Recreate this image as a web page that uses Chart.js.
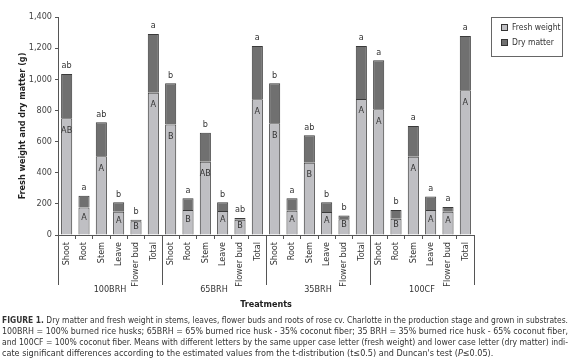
<!DOCTYPE html>
<html>
<head>
<meta charset="utf-8">
<script src="https://cdn.jsdelivr.net/npm/chart.js@4.4.1/dist/chart.umd.min.js"></script>
<style>
  html, body { margin: 0; padding: 0; background: #fff; }
  #wrap { position: relative; width: 580px; height: 364px; }
  #caption {
    position: absolute; left: 2px; top: 315px; width: 566px;
    font-family: 'Liberation Sans Narrow', 'DejaVu Sans Condensed', 'Liberation Sans', sans-serif;
    font-size: 9px; line-height: 11px; color: #333;
  }
  #caption span { display: inline-block; white-space: nowrap; transform-origin: 0 0; }
</style>
</head>
<body>
<div id="wrap">
  <canvas id="roseChart" width="580" height="364"></canvas>
  <div id="caption">
    <span class="fit"><b>FIGURE 1.</b> Dry matter and fresh weight in stems, leaves, flower buds and roots of rose cv. Charlotte in the production stage and grown in substrates.</span><br>
    <span class="fit">100BRH = 100% burned rice husks; 65BRH = 65% burned rice husk - 35% coconut fiber; 35 BRH = 35% burned rice husk - 65% coconut fiber,</span><br>
    <span class="fit">and 100CF = 100% coconut fiber. Means with different letters by the same upper case letter (fresh weight) and lower case letter (dry matter) indi-</span><br>
    <span>cate significant differences according to the estimated values from the t-distribution (t≤0.5) and Duncan's test (<i>P</i>≤0.05).</span>
  </div>
</div>
<script>
const groups = ['100BRH', '65BRH', '35BRH', '100CF'];
const parts = ['Shoot', 'Root', 'Stem', 'Leave', 'Flower bud', 'Total'];

// fresh weight (g), read per bar: 100BRH, 65BRH, 35BRH, 100CF
const freshWeight = [
  750, 176, 505, 150, 88, 914,
  709, 161, 471, 154, 98, 871,
  717, 156, 464, 148, 101, 874,
  807, 105, 503, 161, 150, 929
];
// dry matter (g), stacked on top of the fresh weight
const dryMatter = [
  284, 76, 219, 60, 10, 377,
  265, 75, 186, 56, 11, 343,
  257, 80, 176, 62, 25, 340,
  315, 56, 197, 87, 30, 349
];
const upperLetters = [
  'AB', 'A', 'A', 'A', 'B', 'A',
  'B', 'B', 'AB', 'A', 'B', 'A',
  'B', 'A', 'B', 'A', 'B', 'A',
  'A', 'B', 'A', 'A', 'A', 'A'
];
const lowerLetters = [
  'ab', 'a', 'ab', 'b', 'b', 'a',
  'b', 'a', 'b', 'b', 'ab', 'a',
  'b', 'a', 'ab', 'b', 'b', 'a',
  'a', 'b', 'a', 'a', 'a', 'a'
];

const FONT = "'Liberation Sans Narrow', 'DejaVu Sans Condensed', 'Liberation Sans', sans-serif";
const labels = [];
groups.forEach(() => parts.forEach(p => labels.push(p)));

// upper case letters inside fresh part, lower case above the bar
const lettersPlugin = {
  id: 'letters',
  afterDatasetsDraw(chart) {
    const ctx = chart.ctx;
    const fresh = chart.getDatasetMeta(0).data;
    const dry = chart.getDatasetMeta(1).data;
    ctx.save();
    ctx.font = '9px ' + FONT;
    ctx.fillStyle = '#333';
    ctx.textAlign = 'center';
    ctx.textBaseline = 'middle';
    fresh.forEach((bar, i) => {
      const h = bar.base - bar.y;
      ctx.fillText(upperLetters[i], bar.x, bar.y + Math.min(12, h * 0.38));
      ctx.fillText(lowerLetters[i], dry[i].x, dry[i].y - 8);
    });
    ctx.restore();
  }
};

// group separators + group names under the rotated labels, and the boxed legend
const groupsPlugin = {
  id: 'groups',
  afterDraw(chart) {
    const ctx = chart.ctx;
    const x = chart.scales.x;
    const half = (x.getPixelForValue(1) - x.getPixelForValue(0)) / 2;
    ctx.save();
    ctx.strokeStyle = '#555';
    ctx.lineWidth = 1;
    for (let g = 0; g <= groups.length; g++) {
      const px = Math.round(x.getPixelForValue(g * parts.length) - half) + 0.5;
      ctx.beginPath();
      ctx.moveTo(px, x.top);
      ctx.lineTo(px, x.top + 50);
      ctx.stroke();
    }
    ctx.font = '9px ' + FONT;
    ctx.fillStyle = '#333';
    ctx.textAlign = 'center';
    ctx.textBaseline = 'middle';
    groups.forEach((g, k) => {
      const a = x.getPixelForValue(k * parts.length);
      const b = x.getPixelForValue(k * parts.length + parts.length - 1);
      ctx.fillText(g, (a + b) / 2, x.top + 55);
    });

    // legend
    const left = chart.chartArea.right + 17;
    const top = chart.chartArea.top;
    ctx.strokeStyle = '#666';
    ctx.strokeRect(left + 0.5, top + 0.5, 71, 39);
    ctx.textAlign = 'left';
    ctx.font = '8.5px ' + FONT;
    chart.data.datasets.forEach((ds, k) => {
      const cy = top + 11 + k * 15;
      ctx.fillStyle = ds.backgroundColor;
      ctx.fillRect(left + 10.5, cy - 3.5, 6, 6);
      ctx.strokeStyle = '#333';
      ctx.strokeRect(left + 10.5, cy - 3.5, 6, 6);
      ctx.fillStyle = '#333';
      ctx.fillText(ds.label, left + 21, cy);
    });
    ctx.restore();
  }
};

Chart.defaults.font.family = FONT;
Chart.defaults.font.size = 9;
Chart.defaults.color = '#333';

new Chart(document.getElementById('roseChart'), {
  type: 'bar',
  data: {
    labels: labels,
    datasets: [
      {
        label: 'Fresh weight',
        data: freshWeight,
        backgroundColor: '#bfbfc3',
        borderColor: '#3a3a3a',
        borderWidth: 1,
        barPercentage: 0.64,
        categoryPercentage: 1
      },
      {
        label: 'Dry matter',
        data: dryMatter,
        backgroundColor: '#707070',
        borderColor: '#3a3a3a',
        borderWidth: 1,
        barPercentage: 0.64,
        categoryPercentage: 1
      }
    ]
  },
  options: {
    responsive: false,
    animation: false,
    layout: { padding: { top: 17, right: 106, left: 0, bottom: 0 } },
    plugins: {
      legend: { display: false },
      tooltip: { enabled: false }
    },
    scales: {
      x: {
        stacked: true,
        afterFit: s => { s.height = 129; },
        border: { color: '#555' },
        grid: { drawOnChartArea: false, color: '#555', tickLength: 4, offset: true },
        ticks: { autoSkip: false, minRotation: 90, maxRotation: 90, padding: 3, color: '#333' },
        title: {
          display: true, text: 'Treatments', color: '#222',
          font: { weight: 'bold', size: 9 },
          padding: { top: 0, bottom: 53.6 }
        }
      },
      y: {
        stacked: true,
        min: 0,
        max: 1400,
        afterFit: s => { s.width = 58; },
        border: { color: '#555' },
        grid: { drawOnChartArea: false, color: '#555', tickLength: 3 },
        ticks: {
          stepSize: 200, padding: 3, color: '#444',
          callback: v => v.toLocaleString('en-US')
        },
        title: {
          display: true, text: 'Fresh weight and dry matter (g)', color: '#222',
          font: { weight: 'bold', size: 9 },
          padding: { top: 17.6, bottom: 0 }
        }
      }
    }
  },
  plugins: [lettersPlugin, groupsPlugin]
});

// stretch the caption lines to the justified width
document.querySelectorAll('#caption span').forEach(el => {
  const w = el.getBoundingClientRect().width;
  const k = el.classList.contains('fit') ? 566 / w : Math.min(1, 566 / w);
  el.style.transform = 'scaleX(' + k + ')';
});
</script>
</body>
</html>
